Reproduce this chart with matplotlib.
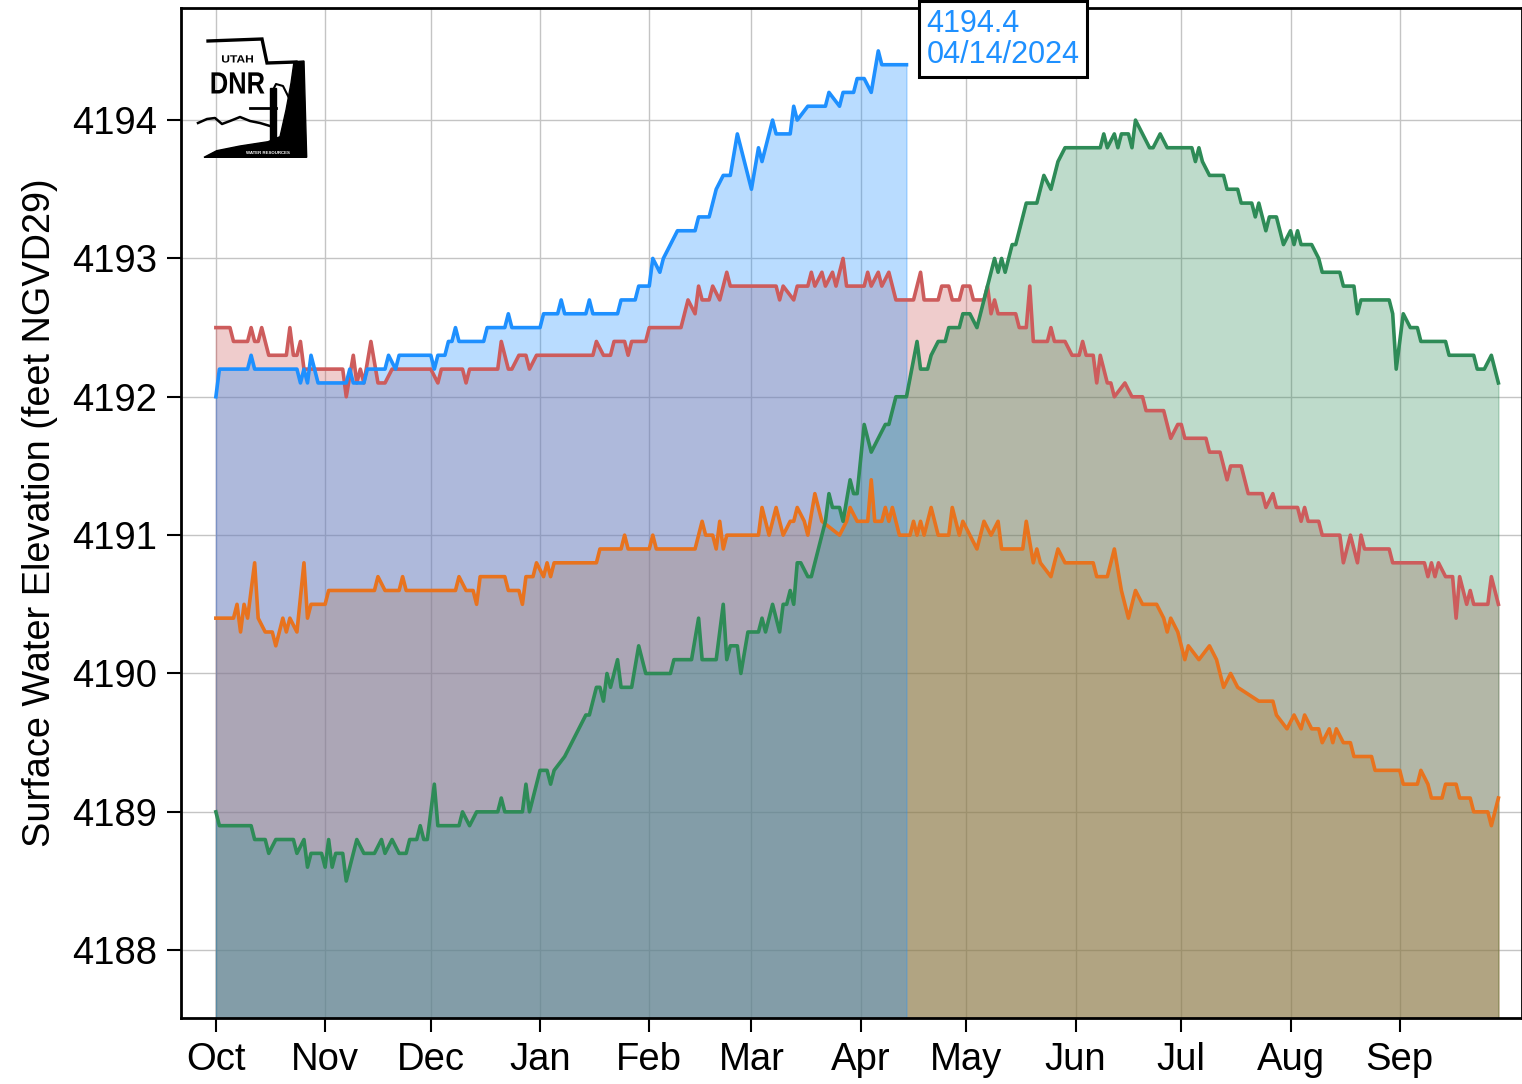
import numpy as np
import matplotlib
matplotlib.use('Agg')
import matplotlib.pyplot as plt
import matplotlib.dates as mdates
from matplotlib.patches import Polygon, Rectangle, PathPatch
from matplotlib.textpath import TextPath
from matplotlib.font_manager import FontProperties
from matplotlib.transforms import Affine2D

plt.rcParams['font.family'] = ['Liberation Sans', 'DejaVu Sans']

# water year starts Oct 1; every series is given as day-of-water-year and elevation (ft)
WY_START = np.datetime64('2023-10-01')

blue_days = [0, 1, 9, 10, 11, 23, 24, 25, 26, 27, 29, 37, 38, 39, 42, 43, 48, 49, 51, 52,
             61, 62, 63, 65, 66, 67, 68, 69, 76, 77, 82, 83, 84, 92, 93, 97, 98, 99, 105, 106,
             107, 114, 115, 119, 120, 123, 124, 126, 127, 129, 131, 136, 137, 140, 141, 142, 144, 146, 148, 152,
             154, 155, 158, 159, 163, 164, 165, 168, 173, 174, 177, 178, 181, 182, 184, 186, 188, 189, 196]
blue_elev = [4192.0, 4192.2, 4192.2, 4192.3, 4192.2, 4192.2, 4192.1, 4192.2, 4192.1, 4192.3,
             4192.1, 4192.1, 4192.2, 4192.1, 4192.1, 4192.2, 4192.2, 4192.3, 4192.2, 4192.3,
             4192.3, 4192.2, 4192.3, 4192.3, 4192.4, 4192.4, 4192.5, 4192.4, 4192.4, 4192.5,
             4192.5, 4192.6, 4192.5, 4192.5, 4192.6, 4192.6, 4192.7, 4192.6, 4192.6, 4192.7,
             4192.6, 4192.6, 4192.7, 4192.7, 4192.8, 4192.8, 4193.0, 4192.9, 4193.0, 4193.1,
             4193.2, 4193.2, 4193.3, 4193.3, 4193.4, 4193.5, 4193.6, 4193.6, 4193.9, 4193.5,
             4193.8, 4193.7, 4194.0, 4193.9, 4193.9, 4194.1, 4194.0, 4194.1, 4194.1, 4194.2,
             4194.1, 4194.2, 4194.2, 4194.3, 4194.3, 4194.2, 4194.5, 4194.4, 4194.4]

red_days = [0, 4, 5, 9, 10, 11, 12, 13, 15, 20, 21, 22, 23, 24, 25, 36, 37, 39, 40, 41,
            42, 44, 46, 48, 50, 61, 63, 64, 70, 71, 72, 80, 81, 83, 84, 86, 88, 89, 91, 107,
            108, 110, 112, 113, 116, 117, 118, 122, 123, 132, 134, 136, 137, 138, 140, 141, 143, 145, 146, 159,
            160, 161, 164, 165, 168, 169, 170, 172, 173, 175, 176, 178, 179, 184, 185, 186, 188, 189, 191, 193,
            198, 200, 201, 205, 206, 208, 209, 211, 212, 214, 215, 218, 219, 220, 221, 222, 227, 228, 230, 231,
            232, 236, 237, 238, 241, 243, 245, 246, 247, 249, 250, 251, 253, 254, 255, 258, 260, 263, 264, 269,
            271, 273, 274, 275, 281, 282, 285, 287, 288, 291, 292, 293, 297, 298, 300, 301, 307, 308, 309, 310,
            313, 314, 319, 320, 322, 324, 325, 326, 333, 334, 343, 344, 345, 346, 347, 349, 351, 352, 353, 354,
            355, 356, 357, 361, 362, 364]
red_elev = [4192.5, 4192.5, 4192.4, 4192.4, 4192.5, 4192.4, 4192.4, 4192.5, 4192.3, 4192.3,
            4192.5, 4192.3, 4192.3, 4192.4, 4192.2, 4192.2, 4192.0, 4192.3, 4192.1, 4192.2,
            4192.1, 4192.4, 4192.1, 4192.1, 4192.2, 4192.2, 4192.1, 4192.2, 4192.2, 4192.1,
            4192.2, 4192.2, 4192.4, 4192.2, 4192.2, 4192.3, 4192.3, 4192.2, 4192.3, 4192.3,
            4192.4, 4192.3, 4192.3, 4192.4, 4192.4, 4192.3, 4192.4, 4192.4, 4192.5, 4192.5,
            4192.7, 4192.6, 4192.8, 4192.7, 4192.7, 4192.8, 4192.7, 4192.9, 4192.8, 4192.8,
            4192.7, 4192.8, 4192.7, 4192.8, 4192.8, 4192.9, 4192.8, 4192.9, 4192.8, 4192.9,
            4192.8, 4193.0, 4192.8, 4192.8, 4192.9, 4192.8, 4192.9, 4192.8, 4192.9, 4192.7,
            4192.7, 4192.9, 4192.7, 4192.7, 4192.8, 4192.8, 4192.7, 4192.7, 4192.8, 4192.8,
            4192.7, 4192.7, 4192.8, 4192.6, 4192.7, 4192.6, 4192.6, 4192.5, 4192.5, 4192.8,
            4192.4, 4192.4, 4192.5, 4192.4, 4192.4, 4192.3, 4192.3, 4192.4, 4192.3, 4192.3,
            4192.1, 4192.3, 4192.1, 4192.1, 4192.0, 4192.1, 4192.0, 4192.0, 4191.9, 4191.9,
            4191.7, 4191.8, 4191.8, 4191.7, 4191.7, 4191.6, 4191.6, 4191.4, 4191.5, 4191.5,
            4191.4, 4191.3, 4191.3, 4191.2, 4191.3, 4191.2, 4191.2, 4191.1, 4191.2, 4191.1,
            4191.1, 4191.0, 4191.0, 4190.8, 4191.0, 4190.8, 4191.0, 4190.9, 4190.9, 4190.8,
            4190.8, 4190.7, 4190.8, 4190.7, 4190.8, 4190.7, 4190.7, 4190.4, 4190.7, 4190.6,
            4190.5, 4190.6, 4190.5, 4190.5, 4190.7, 4190.5]

orange_days = [0, 5, 6, 7, 8, 9, 11, 12, 14, 16, 17, 19, 20, 21, 23, 25, 26, 27, 31, 32,
               45, 46, 48, 52, 53, 54, 68, 69, 71, 73, 74, 75, 82, 83, 86, 87, 88, 90, 91, 93,
               94, 95, 96, 108, 109, 115, 116, 117, 123, 124, 125, 136, 138, 139, 141, 142, 143, 144, 145, 154,
               155, 157, 159, 161, 163, 164, 165, 167, 168, 170, 172, 177, 179, 180, 182, 185, 186, 187, 189, 190,
               191, 192, 194, 197, 198, 199, 200, 201, 203, 205, 208, 209, 211, 212, 214, 216, 218, 220, 222, 223,
               229, 230, 232, 233, 234, 237, 239, 241, 249, 250, 253, 255, 257, 259, 261, 263, 267, 269, 270, 271,
               273, 275, 276, 279, 282, 284, 286, 288, 290, 296, 300, 301, 304, 306, 308, 309, 311, 313, 314, 316,
               317, 318, 320, 322, 323, 328, 329, 336, 337, 341, 342, 344, 345, 348, 349, 352, 353, 356, 357, 361,
               362, 364]
orange_elev = [4190.4, 4190.4, 4190.5, 4190.3, 4190.5, 4190.4, 4190.8, 4190.4, 4190.3, 4190.3,
               4190.2, 4190.4, 4190.3, 4190.4, 4190.3, 4190.8, 4190.4, 4190.5, 4190.5, 4190.6,
               4190.6, 4190.7, 4190.6, 4190.6, 4190.7, 4190.6, 4190.6, 4190.7, 4190.6, 4190.6,
               4190.5, 4190.7, 4190.7, 4190.6, 4190.6, 4190.5, 4190.7, 4190.7, 4190.8, 4190.7,
               4190.8, 4190.7, 4190.8, 4190.8, 4190.9, 4190.9, 4191.0, 4190.9, 4190.9, 4191.0,
               4190.9, 4190.9, 4191.1, 4191.0, 4191.0, 4190.9, 4191.1, 4190.9, 4191.0, 4191.0,
               4191.2, 4191.0, 4191.2, 4191.0, 4191.1, 4191.1, 4191.2, 4191.1, 4191.0, 4191.3,
               4191.1, 4191.0, 4191.1, 4191.2, 4191.1, 4191.1, 4191.4, 4191.1, 4191.1, 4191.2,
               4191.1, 4191.2, 4191.0, 4191.0, 4191.1, 4191.0, 4191.1, 4191.0, 4191.2, 4191.0,
               4191.0, 4191.2, 4191.0, 4191.1, 4191.0, 4190.9, 4191.1, 4191.0, 4191.1, 4190.9,
               4190.9, 4191.1, 4190.8, 4190.9, 4190.8, 4190.7, 4190.9, 4190.8, 4190.8, 4190.7,
               4190.7, 4190.9, 4190.6, 4190.4, 4190.6, 4190.5, 4190.5, 4190.4, 4190.3, 4190.4,
               4190.3, 4190.1, 4190.2, 4190.1, 4190.2, 4190.1, 4189.9, 4190.0, 4189.9, 4189.8,
               4189.8, 4189.7, 4189.6, 4189.7, 4189.6, 4189.7, 4189.6, 4189.6, 4189.5, 4189.6,
               4189.5, 4189.6, 4189.5, 4189.5, 4189.4, 4189.4, 4189.3, 4189.3, 4189.2, 4189.2,
               4189.3, 4189.2, 4189.1, 4189.1, 4189.2, 4189.2, 4189.1, 4189.1, 4189.0, 4189.0,
               4188.9, 4189.1]

green_days = [0, 1, 10, 11, 14, 15, 17, 22, 23, 25, 26, 27, 30, 31, 32, 33, 34, 36, 37, 40,
              42, 45, 47, 48, 50, 52, 54, 55, 57, 58, 59, 60, 62, 63, 69, 70, 72, 74, 80, 81,
              82, 87, 88, 89, 90, 92, 94, 95, 96, 99, 101, 103, 105, 106, 108, 109, 110, 111, 112, 114,
              115, 118, 120, 122, 129, 130, 135, 137, 138, 142, 144, 145, 146, 148, 149, 151, 154, 155, 156, 157,
              158, 160, 161, 162, 163, 164, 165, 166, 168, 169, 170, 171, 172, 173, 174, 175, 177, 178, 180, 181,
              182, 184, 186, 188, 190, 191, 193, 196, 199, 200, 202, 203, 205, 207, 208, 211, 212, 214, 216, 218,
              219, 221, 222, 223, 224, 226, 227, 229, 230, 233, 235, 237, 239, 241, 251, 252, 253, 255, 256, 257,
              259, 260, 261, 263, 265, 266, 268, 270, 277, 278, 279, 280, 282, 286, 287, 290, 291, 294, 295, 296,
              298, 299, 301, 302, 303, 305, 306, 307, 308, 311, 313, 314, 319, 320, 323, 324, 325, 333, 334, 335,
              337, 339, 341, 342, 349, 350, 357, 358, 360, 362, 364]
green_elev = [4189.0, 4188.9, 4188.9, 4188.8, 4188.8, 4188.7, 4188.8, 4188.8, 4188.7, 4188.8,
              4188.6, 4188.7, 4188.7, 4188.6, 4188.8, 4188.6, 4188.7, 4188.7, 4188.5, 4188.8,
              4188.7, 4188.7, 4188.8, 4188.7, 4188.8, 4188.7, 4188.7, 4188.8, 4188.8, 4188.9,
              4188.8, 4188.8, 4189.2, 4188.9, 4188.9, 4189.0, 4188.9, 4189.0, 4189.0, 4189.1,
              4189.0, 4189.0, 4189.2, 4189.0, 4189.1, 4189.3, 4189.3, 4189.2, 4189.3, 4189.4,
              4189.5, 4189.6, 4189.7, 4189.7, 4189.9, 4189.9, 4189.8, 4190.0, 4189.9, 4190.1,
              4189.9, 4189.9, 4190.2, 4190.0, 4190.0, 4190.1, 4190.1, 4190.4, 4190.1, 4190.1,
              4190.5, 4190.1, 4190.2, 4190.2, 4190.0, 4190.3, 4190.3, 4190.4, 4190.3, 4190.4,
              4190.5, 4190.3, 4190.5, 4190.5, 4190.6, 4190.5, 4190.8, 4190.8, 4190.7, 4190.7,
              4190.8, 4190.9, 4191.0, 4191.1, 4191.3, 4191.2, 4191.2, 4191.1, 4191.4, 4191.3,
              4191.3, 4191.8, 4191.6, 4191.7, 4191.8, 4191.8, 4192.0, 4192.0, 4192.4, 4192.2,
              4192.2, 4192.3, 4192.4, 4192.4, 4192.5, 4192.5, 4192.6, 4192.6, 4192.5, 4192.7,
              4192.8, 4193.0, 4192.9, 4193.0, 4192.9, 4193.1, 4193.1, 4193.3, 4193.4, 4193.4,
              4193.6, 4193.5, 4193.7, 4193.8, 4193.8, 4193.9, 4193.8, 4193.9, 4193.8, 4193.9,
              4193.9, 4193.8, 4194.0, 4193.9, 4193.8, 4193.8, 4193.9, 4193.8, 4193.8, 4193.7,
              4193.8, 4193.7, 4193.6, 4193.6, 4193.5, 4193.5, 4193.4, 4193.4, 4193.3, 4193.4,
              4193.2, 4193.3, 4193.3, 4193.2, 4193.1, 4193.2, 4193.1, 4193.2, 4193.1, 4193.1,
              4193.0, 4192.9, 4192.9, 4192.8, 4192.8, 4192.6, 4192.7, 4192.7, 4192.6, 4192.2,
              4192.6, 4192.5, 4192.5, 4192.4, 4192.4, 4192.3, 4192.3, 4192.2, 4192.2, 4192.3,
              4192.1]

# draw order: historical years first, current year on top
series = [
    (red_days, red_elev, '#CD5C5C'),
    (orange_days, orange_elev, '#E8731E'),
    (green_days, green_elev, '#2E8B57'),
    (blue_days, blue_elev, '#1E90FF'),
]

month_ticks = np.arange('2023-10', '2024-10', dtype='datetime64[M]').astype('datetime64[D]')


def to_dates(days):
    return WY_START + np.array(days).astype('timedelta64[D]')


def stretched_text(ax, s, left, baseline, width, cap, **kw):
    # glyph outlines scaled to an exact box, y axis of ax points down
    prop = FontProperties(family='Liberation Sans', weight='bold')
    tp = TextPath((0, 0), s, size=1, prop=prop)
    ext = tp.get_extents()
    sx = width / ext.width
    sy = cap / 0.716
    tr = Affine2D().translate(-ext.x0, 0).scale(sx, -sy).translate(left, baseline)
    ax.add_patch(PathPatch(tr.transform_path(tp), lw=0, **kw))


W, H = 1522, 1084
fig = plt.figure(figsize=(W / 100, H / 100), dpi=100)
ax = fig.add_axes([181 / W, 1 - 1018 / H, (W - 181) / W, (1018 - 8) / H])

for days, elev, color in series:
    ax.fill_between(to_dates(days), elev, 4187.0, color=color, alpha=0.31, lw=1)
for days, elev, color in series:
    ax.plot(to_dates(days), elev, color=color, lw=2.6)

d0 = mdates.date2num(WY_START)
ax.set_xlim(d0 - 9.9, d0 + 370.7)
ax.set_ylim(4187.51, 4194.81)
ax.set_yticks(range(4188, 4195))
ax.set_xticks(month_ticks)
ax.xaxis.set_major_formatter(mdates.DateFormatter('%b'))

ax.set_axisbelow(True)
ax.grid(True, color='#c4c4c4', lw=1)
for s in ax.spines.values():
    s.set_linewidth(2)
ax.tick_params(direction='out', length=10, width=1.5, labelsize=27.5)
ax.tick_params(axis='x', pad=7)
ax.tick_params(axis='y', pad=7)
ax.set_ylabel('Surface Water Elevation (feet NGVD29)', fontsize=27.3, labelpad=10)

# latest reading of the current year
last_x = to_dates(blue_days)[-1]
last_v = blue_elev[-1]
label = f"{last_v:.1f}\n{last_x.astype(object):%m/%d/%Y}"
ax.annotate(label, xy=(last_x, last_v), xytext=(20, -5), textcoords='offset pixels',
            ha='left', va='bottom', color='#1E90FF', fontsize=22, linespacing=1.05,
            bbox=dict(boxstyle='square,pad=0.25', fc='white', ec='black', lw=2.2),
            annotation_clip=False)

# agency logo, drawn in pixel units
logo = fig.add_axes([195 / W, 1 - 162 / H, 115 / W, 127 / H])
logo.set_xlim(195, 310)
logo.set_ylim(162, 35)
logo.axis('off')
logo.patch.set_alpha(0)
logo.plot([208, 262, 267, 296], [41, 39, 63, 62], color='black', lw=2.4, solid_joinstyle='miter')
logo.add_patch(Polygon([(294, 61.7), (304, 61), (306.7, 157.3), (204, 157.3), (216.7, 150.7),
                        (240, 146), (268, 141.7), (280, 136.7), (286, 110), (291, 83)],
                       closed=True, color='black'))
logo.add_patch(Rectangle((270, 88), 6, 54, color='black'))
logo.plot([250, 276], [108, 108], color='black', lw=2)
logo.plot([272, 276, 283, 290, 297], [92, 84, 86, 100, 112], color='black', lw=1.5)
logo.plot([198, 207, 215, 222, 230, 240, 250, 260, 270], [123, 119, 118, 124, 121, 117, 121, 123, 126],
          color='black', lw=1.8)
stretched_text(logo, 'UTAH', 222, 62.5, 31, 7.5, color='black')
stretched_text(logo, 'DNR', 211.5, 93.5, 53, 22, color='black')
logo.text(268, 152.5, 'WATER RESOURCES', fontsize=3.2, fontweight='bold', color='white',
          ha='center', va='center')

fig.savefig('out.png', dpi=100)
